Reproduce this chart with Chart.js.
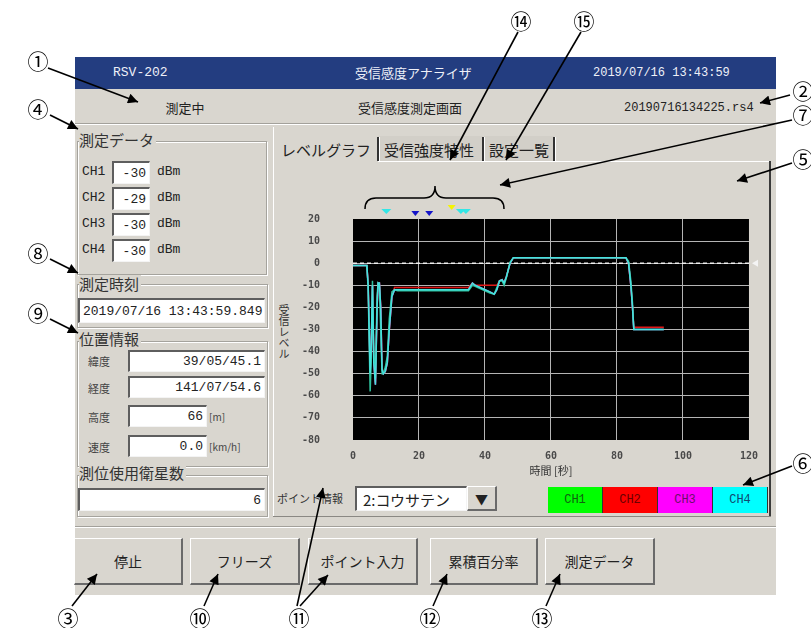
<!DOCTYPE html>
<html lang="ja">
<head>
<meta charset="utf-8">
<title>受信感度アナライザ</title>
<script src="https://cdn.jsdelivr.net/npm/chart.js"></script>
<style>
  body { margin: 0; width: 811px; height: 628px; overflow: hidden; position: relative; background: #fff;
         font-family: "Noto Sans CJK JP", sans-serif; color: #222; }
  .a { position: absolute; white-space: nowrap; }
  .mono { font-family: "Liberation Mono", "Noto Sans CJK JP", monospace; }
  .win { left: 75px; top: 57px; width: 701px; height: 538px; background: #D9D6CF; }
  .bar { left: 75px; top: 57px; width: 701px; height: 32px; background: #233D80; }
  .bartxt { color: #eef0f8; font-size: 13px; line-height: 16px; top: 65px; }
  .hdr { font-size: 13px; line-height: 16px; top: 100px; color: #222; }
  .sep { height: 1px; background: #a3a19b; box-shadow: 0 1px 0 #fff; }
  .grp { border: 1px solid #a5a39d; box-shadow: inset 1px 1px 0 #fff, 1px 1px 0 #fff; box-sizing: border-box; }
  .glab { background: #D9D6CF; font-size: 15px; line-height: 18px; padding-right: 2px; color: #333; }
  .inp { background: #fff; box-sizing: border-box; border-top: 2px solid #5e5e5e; border-left: 2px solid #5e5e5e;
         border-right: 1px solid #f4f4f4; border-bottom: 1px solid #f4f4f4;
         display: flex; align-items: center; justify-content: flex-end; padding-right: 3px;
         font-family: "Liberation Mono", monospace; font-size: 13px; color: #222; }
  .lab { font-size: 13px; line-height: 16px; }
  .small { font-size: 11px; line-height: 14px; color: #444; }
  .unit { font-size: 10px; line-height: 12px; color: #444; }
  .btn { background: #D9D6CF; box-sizing: border-box; border-top: 1px solid #fff; border-left: 1px solid #fff;
         border-right: 2px solid #6a6a6a; border-bottom: 2px solid #6a6a6a;
         display: flex; align-items: center; justify-content: center; font-size: 14px; color: #222; }
  .tab { font-size: 15px; line-height: 18px; top: 141px; color: #222; }
  .chb { top: 487px; width: 55px; height: 26px; box-sizing: border-box; border-right: 1px solid #333;
         display: flex; align-items: center; justify-content: center; font-family: "Liberation Mono", monospace; font-size: 12px; }
  .ytitle { left: 277px; top: 304px; width: 14px; writing-mode: vertical-rl; text-orientation: upright;
            font-size: 11px; line-height: 14px; color: #333; }
  #chartBox { position: absolute; left: 276px; top: 170px; width: 492px; height: 310px; }
  svg text { font-family: "Noto Sans CJK JP", sans-serif; }
</style>
</head>
<body>

<div class="a win"></div>
<div class="a bar"></div>
<div class="a bartxt mono" style="left:113px">RSV-202</div>
<div class="a bartxt" style="left:355px;width:110px;text-align:center">受信感度アナライザ</div>
<div class="a bartxt mono" style="left:593px;font-size:12px">2019/07/16 13:43:59</div>

<div class="a hdr" style="left:150px;width:70px;text-align:center">測定中</div>
<div class="a hdr" style="left:350px;width:120px;text-align:center">受信感度測定画面</div>
<div class="a hdr mono" style="left:624px;font-size:12px">20190716134225.rs4</div>
<div class="a sep" style="left:75px;top:123px;width:701px"></div>

<!-- 測定データ -->
<div class="a grp" style="left:77px;top:141px;width:190px;height:134px"></div>
<div class="a glab" style="left:79px;top:131px">測定データ</div>
<div class="a lab mono" style="left:82px;top:164px">CH1</div>
<div class="a inp" style="left:112px;top:161px;width:38px;height:23px">-30</div>
<div class="a lab mono" style="left:157px;top:164px">dBm</div>
<div class="a lab mono" style="left:82px;top:190px">CH2</div>
<div class="a inp" style="left:112px;top:187px;width:38px;height:23px">-29</div>
<div class="a lab mono" style="left:157px;top:190px">dBm</div>
<div class="a lab mono" style="left:82px;top:216px">CH3</div>
<div class="a inp" style="left:112px;top:213px;width:38px;height:23px">-30</div>
<div class="a lab mono" style="left:157px;top:216px">dBm</div>
<div class="a lab mono" style="left:82px;top:242px">CH4</div>
<div class="a inp" style="left:112px;top:239px;width:38px;height:23px">-30</div>
<div class="a lab mono" style="left:157px;top:242px">dBm</div>

<!-- 測定時刻 -->
<div class="a grp" style="left:77px;top:284px;width:191px;height:44px"></div>
<div class="a glab" style="left:79px;top:275px">測定時刻</div>
<div class="a inp" style="left:78px;top:298px;width:187px;height:25px;justify-content:flex-start;padding-left:3px">2019/07/16 13:43:59.849</div>

<!-- 位置情報 -->
<div class="a grp" style="left:77px;top:341px;width:191px;height:126px"></div>
<div class="a glab" style="left:79px;top:330px">位置情報</div>
<div class="a small" style="left:88px;top:354px">緯度</div>
<div class="a inp" style="left:128px;top:350px;width:137px;height:22px">39/05/45.1</div>
<div class="a small" style="left:88px;top:381px">経度</div>
<div class="a inp" style="left:128px;top:376px;width:137px;height:22px">141/07/54.6</div>
<div class="a small" style="left:88px;top:410px">高度</div>
<div class="a inp" style="left:128px;top:405px;width:79px;height:22px">66</div>
<div class="a unit" style="left:209px;top:411px">[m]</div>
<div class="a small" style="left:88px;top:440px">速度</div>
<div class="a inp" style="left:128px;top:435px;width:79px;height:22px">0.0</div>
<div class="a unit" style="left:209px;top:441px">[km/h]</div>

<!-- 測位使用衛星数 -->
<div class="a grp" style="left:77px;top:475px;width:191px;height:42px"></div>
<div class="a glab" style="left:79px;top:464px">測位使用衛星数</div>
<div class="a inp" style="left:78px;top:488px;width:187px;height:23px">6</div>

<!-- タブ -->
<div class="a" style="left:273px;top:127px;width:1px;height:390px;background:#fff"></div>
<div class="a" style="left:378px;top:136px;width:105px;height:25px;background:#d2cfc8"></div>
<div class="a" style="left:484px;top:136px;width:70px;height:25px;background:#d2cfc8"></div>
<div class="a tab" style="left:281px">レベルグラフ</div>
<div class="a tab" style="left:384px">受信強度特性</div>
<div class="a tab" style="left:489px">設定一覧</div>
<div class="a" style="left:377px;top:137px;width:2px;height:24px;background:#333;border-right:1px solid #fff"></div>
<div class="a" style="left:482px;top:137px;width:2px;height:24px;background:#333;border-right:1px solid #fff"></div>
<div class="a" style="left:553px;top:137px;width:2px;height:24px;background:#333;border-right:1px solid #fff"></div>
<div class="a" style="left:378px;top:161px;width:392px;height:1px;background:#fff"></div>
<div class="a" style="left:769px;top:161px;width:2px;height:356px;background:#3a3a3a"></div>
<div class="a" style="left:273px;top:516px;width:498px;height:1px;background:#8a8883"></div>

<!-- グラフ -->
<div class="a ytitle">受信レベル</div>
<div id="chartBox"><canvas id="levelChart"></canvas></div>

<!-- ポイント情報 / CH -->
<div class="a small" style="left:277px;top:491px;color:#333">ポイント情報</div>
<div class="a inp" style="left:355px;top:486px;width:112px;height:25px;justify-content:flex-start;padding-left:6px;font-family:'Noto Sans CJK JP';font-size:15px">2:コウサテン</div>
<div class="a btn" style="left:467px;top:486px;width:30px;height:25px;font-size:13px">▼</div>
<div class="a chb" style="left:548px;background:#00FF00;color:#106010">CH1</div>
<div class="a chb" style="left:603px;background:#FF0000;color:#6a0000">CH2</div>
<div class="a chb" style="left:658px;background:#FF00FF;color:#6a106a">CH3</div>
<div class="a chb" style="left:713px;background:#00FFFF;color:#104a70">CH4</div>

<div class="a sep" style="left:75px;top:526px;width:701px"></div>

<!-- ボタン -->
<div class="a btn" style="left:74px;top:538px;width:109px;height:47px">停止</div>
<div class="a btn" style="left:190px;top:538px;width:110px;height:47px">フリーズ</div>
<div class="a btn" style="left:308px;top:538px;width:110px;height:47px">ポイント入力</div>
<div class="a btn" style="left:430px;top:538px;width:108px;height:47px">累積百分率</div>
<div class="a btn" style="left:545px;top:538px;width:110px;height:47px">測定データ</div>

<!-- 注記（番号・矢印） -->
<svg class="a" style="left:0;top:0" width="811" height="628">
  <defs>
    <marker id="ah" viewBox="0 0 10 10" refX="10" refY="5" markerWidth="12" markerHeight="10" markerUnits="userSpaceOnUse" orient="auto">
      <path d="M0,0 L10,5 L0,10 z" fill="#000"/>
    </marker>
  </defs>
  <g stroke="#000" stroke-width="1.6" fill="none" marker-end="url(#ah)">
    <line x1="48" y1="68" x2="138" y2="102"/>
    <line x1="790" y1="95" x2="760" y2="103"/>
    <line x1="50" y1="115" x2="78" y2="129"/>
    <line x1="792" y1="120" x2="500" y2="185"/>
    <line x1="792" y1="163" x2="737" y2="181"/>
    <line x1="792" y1="466" x2="743" y2="485"/>
    <line x1="50" y1="259" x2="78" y2="273"/>
    <line x1="50" y1="319" x2="78" y2="333"/>
    <line x1="518" y1="32" x2="450" y2="160"/>
    <line x1="581" y1="32" x2="506" y2="160"/>
    <line x1="72" y1="606" x2="97" y2="574"/>
    <line x1="204" y1="606" x2="218" y2="574"/>
    <line x1="297" y1="606" x2="323" y2="488"/>
    <line x1="300" y1="606" x2="328" y2="575"/>
    <line x1="433" y1="606" x2="447" y2="574"/>
    <line x1="546" y1="606" x2="560" y2="574"/>
  </g>
  <path d="M365,209 Q365,198 376,198 L424,198 Q435,198 435,186 Q435,198 446,198 L493,198 Q504,198 504,209"
        stroke="#000" stroke-width="1.5" fill="none"/>
  <g font-size="21" fill="#000" text-anchor="middle" dominant-baseline="central">
    <text x="38" y="60">①</text>
    <text x="803" y="90">②</text>
    <text x="68" y="617">③</text>
    <text x="38" y="108">④</text>
    <text x="803" y="158">⑤</text>
    <text x="803" y="462">⑥</text>
    <text x="803" y="114">⑦</text>
    <text x="38" y="252">⑧</text>
    <text x="38" y="312">⑨</text>
    <text x="200" y="617">⑩</text>
    <text x="299" y="617">⑪</text>
    <text x="430" y="617">⑫</text>
    <text x="542" y="617">⑬</text>
    <text x="521" y="20">⑭</text>
    <text x="584" y="20">⑮</text>
  </g>
</svg>

<script>
// チャンネル
const chNames = ['CH1', 'CH2', 'CH3', 'CH4'];
const chLineColors = ['#2fbf9c', '#e01818', '#d030d0', '#45e3de'];

// 時間 [秒]
const timeSec = [0, 4.2, 4.6, 5.2, 5.5, 5.9, 6.3, 6.8, 7.3, 7.6, 8.0, 8.4, 8.8, 9.2, 9.8, 10.4, 11.0, 11.8, 12.6, 13.5,
                 35, 36.2, 37, 38.5, 40, 41.5, 42.8, 43.6, 44.4, 45.2, 45.8, 46.5, 47.6, 48.6, 82.7, 83.5, 84.2, 84.7, 85.1, 94.2];

// 受信レベル [dBm]
const ch1Level = [-1, -1, -12, -58, -45, -8, -40, -52, -15, -9, -10, -30, -50, -50, -47, -42, -25, -13, -12, -12.5,
                  -12.5, -10, -10.5, -11.5, -12.5, -13.5, -14, -11, -8, -8, -10, -6.5, 0.5, 2.5, 2.5, 1, -8, -18, -30, -30];
const ch2Level = [-1, -1, -10, -48, -40, -10, -44, -54, -20, -9, -9, -20, -47, -50, -49, -45, -30, -15, -11, -11,
                  -11, -9, -10, -10, -10, -10, -10, -10, -8, -7.5, -9, -6, 0, 2.5, 2.5, 0, -10, -20, -29, -29];
const ch3Level = [-1, -1, -10, -50, -40, -10, -45, -55, -20, -9, -9, -20, -48, -50, -49, -45, -30, -15, -12, -12,
                  -12, -9, -10, -11, -12, -13, -14, -12, -8, -7.5, -9, -6, 0, 2.5, 2.5, 0, -10, -20, -30, -30];
const ch4Level = [-1, -1, -10, -50, -40, -10, -45, -55, -20, -9, -9, -20, -48, -50, -49, -45, -30, -15, -12, -12,
                  -12, -9, -10, -11, -12, -13, -14, -12, -8, -7.5, -9, -6, 0, 2.5, 2.5, 0, -10, -20, -30, -30];
const chLevels = [ch1Level, ch2Level, ch3Level, ch4Level];

// 基準レベル
const refLevel = 0;

// ポイントマーカー
const markerTimes = [10.1, 18.9, 23.1, 29.9, 32.7, 34.2];
const markerColors = ['#33e6e6', '#1414c8', '#1414c8', '#f4f400', '#33e6e6', '#33e6e6'];

// 目盛
const xTicks = [0, 20, 40, 60, 80, 100, 120];
const yTicks = [20, 10, 0, -10, -20, -30, -40, -50, -60, -70, -80];

// 描画の重なり順 (CH4 が一番上)
const drawOrder = [1, 3, 2, 0];

const tickFont = { family: 'DejaVu Sans Mono', size: 10, weight: 'bold' };

const plotDecor = {
  id: 'plotDecor',
  beforeDraw(chart) {
    const { ctx, chartArea: a } = chart;
    ctx.save();
    ctx.fillStyle = '#000';
    ctx.fillRect(a.left, a.top, a.right - a.left, a.bottom - a.top);
    ctx.restore();
  },
  afterDraw(chart) {
    const { ctx, chartArea: a, scales: { x, y } } = chart;
    ctx.save();
    // 基準レベルの印
    const yr = y.getPixelForValue(refLevel);
    ctx.fillStyle = '#f4f4f4';
    ctx.beginPath();
    ctx.moveTo(a.right + 3, yr);
    ctx.lineTo(a.right + 9, yr - 3.5);
    ctx.lineTo(a.right + 9, yr + 3.5);
    ctx.closePath();
    ctx.fill();
    // ポイント
    markerTimes.forEach((t, i) => {
      const px = x.getPixelForValue(t);
      const c = markerColors[i];
      let tip = a.top - 5, w = 5;
      if (c === '#1414c8') { tip = a.top - 3; w = 4; }
      if (c === '#f4f400') { tip = a.top - 9; w = 4; }
      ctx.fillStyle = c;
      ctx.beginPath();
      ctx.moveTo(px - w, tip - 5);
      ctx.lineTo(px + w, tip - 5);
      ctx.lineTo(px, tip);
      ctx.closePath();
      ctx.fill();
    });
    ctx.restore();
  }
};

const datasets = chNames.map((name, k) => ({
  label: name,
  data: timeSec.map((t, i) => ({ x: t, y: chLevels[k][i] })),
  borderColor: chLineColors[k],
  borderWidth: 1.5,
  pointRadius: 0,
  tension: 0,
  order: drawOrder[k]
}));
datasets.push({
  label: '基準',
  data: [{ x: xTicks[0], y: refLevel }, { x: xTicks[xTicks.length - 1], y: refLevel }],
  borderColor: '#f0f0f0',
  borderWidth: 1.5,
  borderDash: [4, 3],
  pointRadius: 0,
  order: 9
});

const levelChart = new Chart(document.getElementById('levelChart'), {
  type: 'line',
  data: { datasets: datasets },
  options: {
    responsive: true,
    maintainAspectRatio: false,
    animation: false,
    layout: { padding: { top: 49, right: 16, left: 0, bottom: 0 } },
    plugins: { legend: { display: false }, tooltip: { enabled: false } },
    scales: {
      x: {
        type: 'linear',
        min: xTicks[0],
        max: xTicks[xTicks.length - 1],
        afterBuildTicks: s => { s.ticks = xTicks.map(v => ({ value: v })); },
        afterFit: s => { s.height = 40; },
        border: { display: false },
        grid: {
          drawTicks: false,
          color: c => (c.tick && (c.tick.value === xTicks[0] || c.tick.value === xTicks[xTicks.length - 1])) ? 'rgba(0,0,0,0)' : '#b4b4b4',
          lineWidth: 1
        },
        ticks: { padding: 10, color: '#4a4a4a', font: tickFont, maxRotation: 0 },
        title: { display: true, text: '時間 [秒]', color: '#333', font: { family: 'Noto Sans CJK JP', size: 11 }, padding: { top: 0, bottom: 3 } }
      },
      y: {
        min: yTicks[yTicks.length - 1],
        max: yTicks[0],
        afterBuildTicks: s => { s.ticks = yTicks.slice().reverse().map(v => ({ value: v })); },
        afterFit: s => { s.width = 77; },
        border: { display: false },
        grid: {
          drawTicks: false,
          color: c => (c.tick && (c.tick.value === yTicks[0] || c.tick.value === yTicks[yTicks.length - 1])) ? 'rgba(0,0,0,0)' : '#b4b4b4',
          lineWidth: 1
        },
        ticks: { padding: 33, color: '#4a4a4a', font: tickFont }
      }
    }
  },
  plugins: [plotDecor]
});
</script>
</body>
</html>
